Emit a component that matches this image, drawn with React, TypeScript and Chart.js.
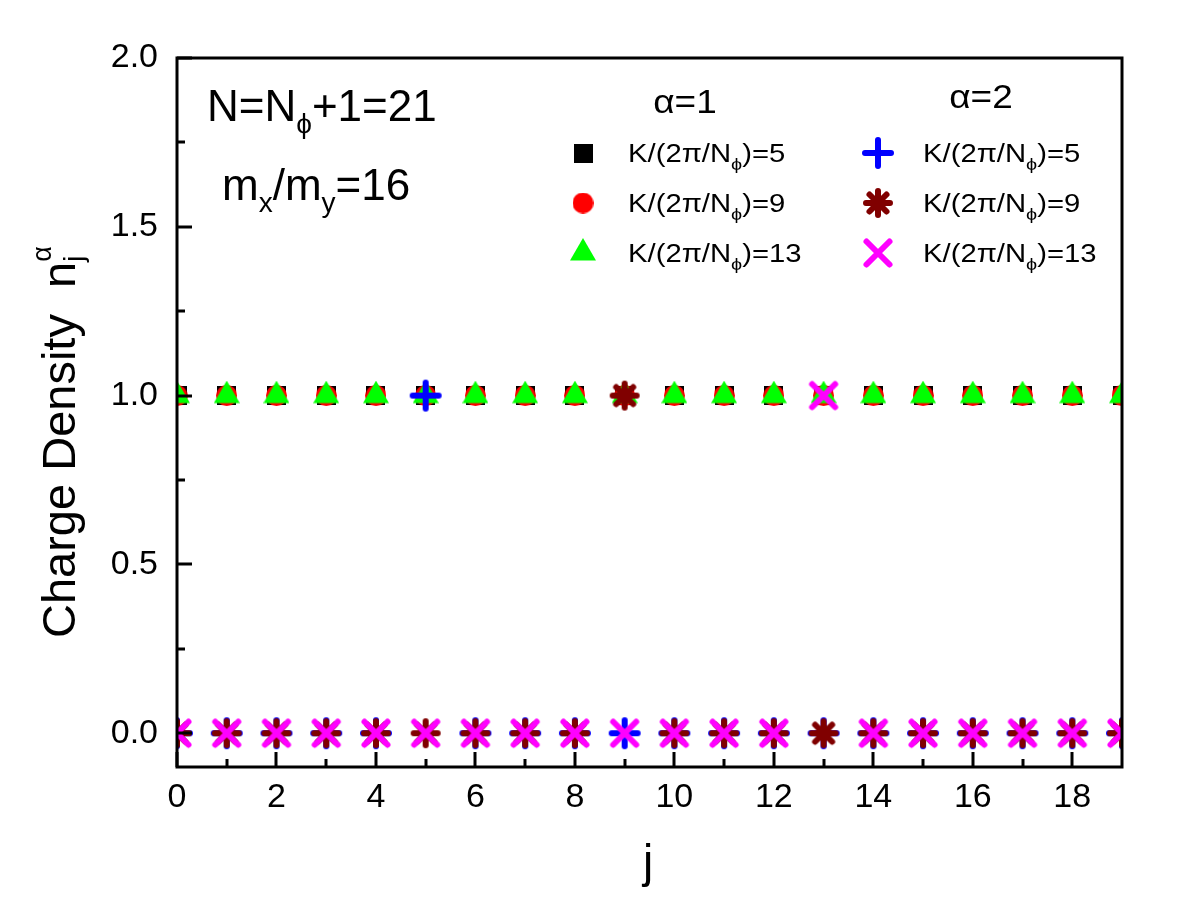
import React, { useEffect, useRef } from "react";
import { Chart, registerables } from "chart.js";

Chart.register(...registerables);

const FONT = '"Liberation Sans", Arial, Helvetica, sans-serif';

// lattice site index j
const sites = [0, 1, 2, 3, 4, 5, 6, 7, 8, 9, 10, 11, 12, 13, 14, 15, 16, 17, 18, 19];

// charge density n_j for layer alpha = 1
const a1K5 = [1, 1, 1, 1, 1, 1, 1, 1, 1, 1, 1, 1, 1, 1, 1, 1, 1, 1, 1, 1];
const a1K9 = [1, 1, 1, 1, 1, 1, 1, 1, 1, 1, 1, 1, 1, 1, 1, 1, 1, 1, 1, 1];
const a1K13 = [1, 1, 1, 1, 1, 1, 1, 1, 1, 1, 1, 1, 1, 1, 1, 1, 1, 1, 1, 1];

// charge density n_j for layer alpha = 2
const a2K5 = [0, 0, 0, 0, 0, 1, 0, 0, 0, 0, 0, 0, 0, 0, 0, 0, 0, 0, 0, 0];
const a2K9 = [0, 0, 0, 0, 0, 0, 0, 0, 0, 1, 0, 0, 0, 0, 0, 0, 0, 0, 0, 0];
const a2K13 = [0, 0, 0, 0, 0, 0, 0, 0, 0, 0, 0, 0, 0, 1, 0, 0, 0, 0, 0, 0];

// momentum labels K/(2π/Nφ)
const kLabels = ["5", "9", "13"];

// axis ticks
const xMajor = [0, 2, 4, 6, 8, 10, 12, 14, 16, 18];
const xMinor = [1, 3, 5, 7, 9, 11, 13, 15, 17];
const yMajor = [0, 0.5, 1.0, 1.5, 2.0];
const yMinor = [0.25, 0.75, 1.25, 1.75];

type Kind = "square" | "circle" | "triangle" | "plus" | "star" | "x";

function makeMarker(kind: Kind, color: string): HTMLCanvasElement {
  const c = document.createElement("canvas");
  const s = kind === "square" ? 19 : kind === "circle" ? 21 : kind === "triangle" ? 26 : 34;
  c.width = s;
  // the triangle is centred on its centroid
  c.height = kind === "triangle" ? 30 : s;
  const g = c.getContext("2d")!;
  const cx = c.width / 2;
  const cy = c.height / 2;
  g.fillStyle = color;
  g.strokeStyle = color;
  g.lineWidth = 6;
  g.lineCap = "round";
  if (kind === "square") {
    g.fillRect(0, 0, s, s);
  } else if (kind === "circle") {
    g.beginPath();
    g.arc(cx, cy, s / 2, 0, Math.PI * 2);
    g.fill();
  } else if (kind === "triangle") {
    g.beginPath();
    g.moveTo(cx, 0);
    g.lineTo(c.width, 22.5);
    g.lineTo(0, 22.5);
    g.closePath();
    g.fill();
  } else {
    g.beginPath();
    if (kind === "plus" || kind === "star") {
      const a = kind === "plus" ? 13 : 12;
      g.moveTo(cx - a, cy);
      g.lineTo(cx + a, cy);
      g.moveTo(cx, cy - a);
      g.lineTo(cx, cy + a);
    }
    if (kind === "x" || kind === "star") {
      const d = kind === "x" ? 11.5 : 8.5;
      g.moveTo(cx - d, cy - d);
      g.lineTo(cx + d, cy + d);
      g.moveTo(cx + d, cy - d);
      g.lineTo(cx - d, cy + d);
    }
    g.stroke();
  }
  return c;
}

type Seg = { t: string; size: number; dy?: number; keep?: boolean };

function richWidth(ctx: CanvasRenderingContext2D, segs: Seg[]) {
  let w = 0;
  for (const s of segs) {
    ctx.font = `${s.size}px ${FONT}`;
    if (!s.keep) w += ctx.measureText(s.t).width;
  }
  return w;
}

function drawRich(
  ctx: CanvasRenderingContext2D,
  segs: Seg[],
  x: number,
  y: number,
  align: "left" | "center" = "left",
  sx = 1
) {
  ctx.save();
  ctx.fillStyle = "#000";
  ctx.textBaseline = "alphabetic";
  ctx.textAlign = "left";
  const w = richWidth(ctx, segs);
  ctx.translate(align === "center" ? x - (w * sx) / 2 : x, y);
  ctx.scale(sx, 1);
  let cx = 0;
  for (const s of segs) {
    ctx.font = `${s.size}px ${FONT}`;
    ctx.fillText(s.t, cx, s.dy || 0);
    if (!s.keep) cx += ctx.measureText(s.t).width;
  }
  ctx.restore();
}

const kText = (k: string): Seg[] => [
  { t: "K/(2π/N", size: 25 },
  { t: "ϕ", size: 17, dy: 8 },
  { t: ")=" + k, size: 25 },
];

export default function App() {
  const ref = useRef<HTMLCanvasElement>(null);

  useEffect(() => {
    const canvas = ref.current;
    if (!canvas) return;

    const mSquare = makeMarker("square", "#000000");
    const mCircle = makeMarker("circle", "#ff0000");
    const mTri = makeMarker("triangle", "#00ff00");
    const mPlus = makeMarker("plus", "#0000ff");
    const mStar = makeMarker("star", "#800000");
    const mX = makeMarker("x", "#ff00ff");

    const pts = (vals: number[]) => sites.map((j, i) => ({ x: j, y: vals[i] }));

    const series = [
      { label: "α=1, K=5", vals: a1K5, marker: mSquare, order: 6 },
      { label: "α=1, K=9", vals: a1K9, marker: mCircle, order: 5 },
      { label: "α=1, K=13", vals: a1K13, marker: mTri, order: 4 },
      { label: "α=2, K=5", vals: a2K5, marker: mPlus, order: 3 },
      { label: "α=2, K=9", vals: a2K9, marker: mStar, order: 2 },
      { label: "α=2, K=13", vals: a2K13, marker: mX, order: 1 },
    ];

    const decor = {
      id: "decor",
      afterDraw(chart: Chart) {
        const { ctx, chartArea: a } = chart;
        const xs = chart.scales.x;
        const ys = chart.scales.y;
        ctx.save();
        ctx.strokeStyle = "#000";
        ctx.lineWidth = 3;
        ctx.lineCap = "butt";
        ctx.beginPath();
        for (const v of xMajor) {
          const px = Math.round(xs.getPixelForValue(v));
          ctx.moveTo(px, a.bottom);
          ctx.lineTo(px, a.bottom - 15);
        }
        for (const v of xMinor) {
          const px = Math.round(xs.getPixelForValue(v));
          ctx.moveTo(px, a.bottom);
          ctx.lineTo(px, a.bottom - 8);
        }
        for (const v of yMajor) {
          const py = Math.round(ys.getPixelForValue(v));
          ctx.moveTo(a.left, py);
          ctx.lineTo(a.left + 15, py);
        }
        for (const v of yMinor) {
          const py = Math.round(ys.getPixelForValue(v));
          ctx.moveTo(a.left, py);
          ctx.lineTo(a.left + 8, py);
        }
        ctx.stroke();
        ctx.strokeRect(a.left, a.top, a.right - a.left, a.bottom - a.top);
        ctx.restore();

        // annotations
        drawRich(ctx, [
          { t: "N=N", size: 44 },
          { t: "ϕ", size: 28, dy: 12 },
          { t: "+1=21", size: 44 },
        ], 207, 121);
        drawRich(ctx, [
          { t: "m", size: 44 },
          { t: "x", size: 28, dy: 12 },
          { t: "/m", size: 44 },
          { t: "y", size: 28, dy: 12 },
          { t: "=16", size: 44 },
        ], 222, 200);

        // legend
        drawRich(ctx, [{ t: "α=1", size: 33 }], 685, 113, "center", 1.12);
        drawRich(ctx, [{ t: "α=2", size: 33 }], 981, 108, "center", 1.12);
        const rowsY = [162, 212, 262];
        const col1 = [mSquare, mCircle, mTri];
        const col2 = [mPlus, mStar, mX];
        rowsY.forEach((by, i) => {
          const cy = by - 9;
          const m1 = col1[i];
          const m2 = col2[i];
          ctx.drawImage(m1, 583 - m1.width / 2, cy - m1.height / 2);
          ctx.drawImage(m2, 878 - m2.width / 2, cy - m2.height / 2);
          drawRich(ctx, kText(kLabels[i]), 628, by, "left", 1.17);
          drawRich(ctx, kText(kLabels[i]), 923, by, "left", 1.17);
        });

        // axis titles
        drawRich(ctx, [{ t: "j", size: 46 }], 648, 877, "center");
        ctx.save();
        ctx.translate(75, 638);
        ctx.rotate(-Math.PI / 2);
        drawRich(ctx, [
          { t: "Charge Density  ", size: 47 },
          { t: "n", size: 47 },
          { t: "j", size: 27, dy: 8, keep: true },
          { t: "α", size: 27, dy: -24 },
        ], 0, 0);
        ctx.restore();
      },
    };

    const chart = new Chart(canvas, {
      type: "scatter",
      data: {
        datasets: series.map((s) => ({
          label: s.label,
          data: pts(s.vals),
          pointStyle: s.marker,
          showLine: false,
          order: s.order,
          clip: 0,
        })),
      },
      options: {
        responsive: false,
        animation: false,
        devicePixelRatio: 1,
        layout: { padding: { left: 0, right: 78, top: 58, bottom: 0 } },
        plugins: { legend: { display: false }, tooltip: { enabled: false } },
        scales: {
          x: {
            type: "linear",
            min: 0,
            max: 19,
            grid: { display: false, drawTicks: false },
            border: { display: false },
            afterBuildTicks: (sc: any) => {
              sc.ticks = xMajor.map((v) => ({ value: v }));
            },
            afterFit: (sc: any) => {
              sc.height = 133;
            },
            ticks: {
              autoSkip: false,
              maxRotation: 0,
              padding: 10,
              color: "#000",
              font: { family: FONT, size: 34 },
              callback: (v: any) => String(v),
            },
          },
          y: {
            type: "linear",
            min: -0.1,
            max: 2.0,
            grid: { display: false, drawTicks: false },
            border: { display: false },
            afterBuildTicks: (sc: any) => {
              sc.ticks = yMajor.map((v) => ({ value: v }));
            },
            afterFit: (sc: any) => {
              sc.width = 177;
            },
            ticks: {
              autoSkip: false,
              padding: 19,
              color: "#000",
              font: { family: FONT, size: 34 },
              callback: (v: any) => Number(v).toFixed(1),
            },
          },
        },
      },
      plugins: [decor],
    });

    return () => chart.destroy();
  }, []);

  return (
    <div style={{ position: "absolute", left: 0, top: 0, width: 1200, height: 900, background: "#fff" }}>
      <canvas ref={ref} width={1200} height={900} />
    </div>
  );
}
